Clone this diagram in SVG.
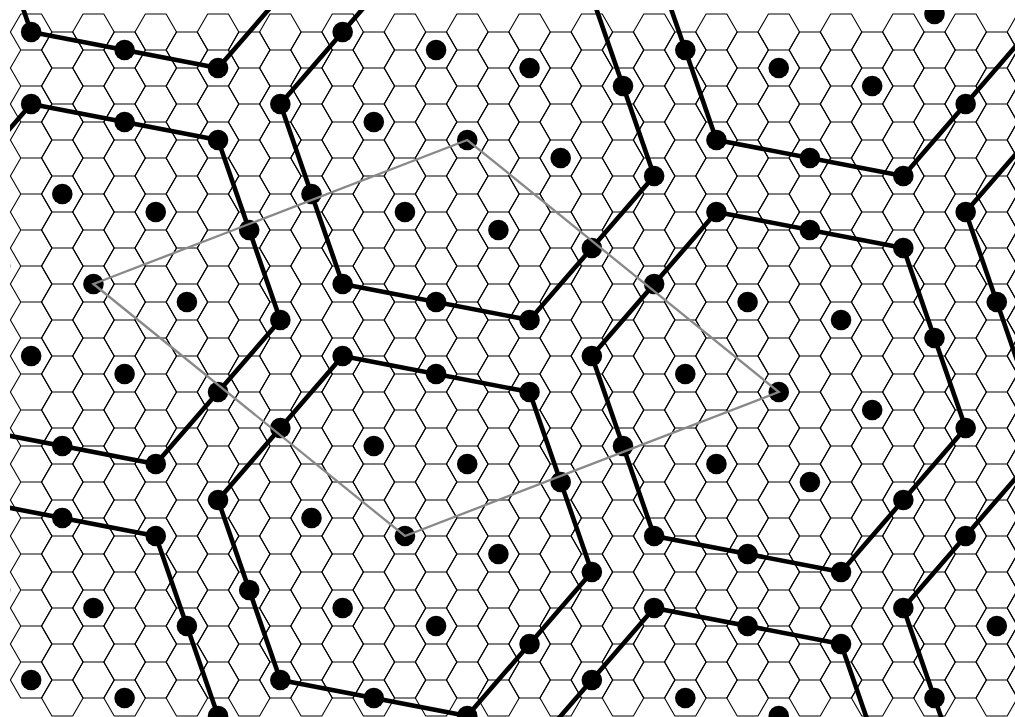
<svg xmlns="http://www.w3.org/2000/svg" width="1015" height="717" viewBox="0 0 1015 717">
<style>
.grid{fill:none;stroke:#000;stroke-width:1.1;stroke-linejoin:miter}
.ring{fill:none;stroke:#000;stroke-width:4.6;stroke-linejoin:round}
.dot{fill:#000}
.cellbox{fill:none;stroke:#888;stroke-width:2.3;stroke-linejoin:miter}
</style>
<defs>
<clipPath id="view"><rect x="10" y="10" width="1010" height="712"/></clipPath>
<path id="col" d="M10.38 32l10.385-18h20.77l10.385 18l-10.385 18h-20.77z
m0 36l10.385-18h20.77l10.385 18l-10.385 18h-20.77z
m0 36l10.385-18h20.77l10.385 18l-10.385 18h-20.77z
m0 36l10.385-18h20.77l10.385 18l-10.385 18h-20.77z
m0 36l10.385-18h20.77l10.385 18l-10.385 18h-20.77z
m0 36l10.385-18h20.77l10.385 18l-10.385 18h-20.77z
m0 36l10.385-18h20.77l10.385 18l-10.385 18h-20.77z
m0 36l10.385-18h20.77l10.385 18l-10.385 18h-20.77z
m0 36l10.385-18h20.77l10.385 18l-10.385 18h-20.77z
m0 36l10.385-18h20.77l10.385 18l-10.385 18h-20.77z
m0 36l10.385-18h20.77l10.385 18l-10.385 18h-20.77z
m0 36l10.385-18h20.77l10.385 18l-10.385 18h-20.77z
m0 36l10.385-18h20.77l10.385 18l-10.385 18h-20.77z
m0 36l10.385-18h20.77l10.385 18l-10.385 18h-20.77z
m0 36l10.385-18h20.77l10.385 18l-10.385 18h-20.77z
m0 36l10.385-18h20.77l10.385 18l-10.385 18h-20.77z
m0 36l10.385-18h20.77l10.385 18l-10.385 18h-20.77z
m0 36l10.385-18h20.77l10.385 18l-10.385 18h-20.77z
m0 36l10.385-18h20.77l10.385 18l-10.385 18h-20.77z"/>
<polygon id="ring" points="186.9,36 62.3,180 -124.6,144 -186.9,-36 -62.3,-180 124.6,-144"/>
<g id="dots">
<circle class="dot" cx="0" cy="0" r="10.3"/>
<circle class="dot" cx="93.45" cy="18" r="10.3"/>
<circle class="dot" cx="-93.45" cy="-18" r="10.3"/>
<circle class="dot" cx="62.3" cy="-72" r="10.3"/>
<circle class="dot" cx="-62.3" cy="72" r="10.3"/>
<circle class="dot" cx="31.15" cy="90" r="10.3"/>
<circle class="dot" cx="-31.15" cy="-90" r="10.3"/>
<circle class="dot" cx="186.9" cy="36" r="10.3"/>
<circle class="dot" cx="62.3" cy="180" r="10.3"/>
<circle class="dot" cx="-124.6" cy="144" r="10.3"/>
<circle class="dot" cx="-186.9" cy="-36" r="10.3"/>
<circle class="dot" cx="-62.3" cy="-180" r="10.3"/>
<circle class="dot" cx="124.6" cy="-144" r="10.3"/>
<circle class="dot" cx="124.6" cy="108" r="10.3"/>
<circle class="dot" cx="-31.15" cy="162" r="10.3"/>
<circle class="dot" cx="-155.75" cy="54" r="10.3"/>
<circle class="dot" cx="-124.6" cy="-108" r="10.3"/>
<circle class="dot" cx="31.15" cy="-162" r="10.3"/>
<circle class="dot" cx="155.75" cy="-54" r="10.3"/>
</g>
</defs>
<rect width="1015" height="717" fill="#fff"/>
<g id="hex-grid" class="grid">
<use href="#col" x="0" y="0"/>
<use href="#col" x="31.15" y="18"/>
<use href="#col" x="62.3" y="0"/>
<use href="#col" x="93.45" y="18"/>
<use href="#col" x="124.6" y="0"/>
<use href="#col" x="155.75" y="18"/>
<use href="#col" x="186.9" y="0"/>
<use href="#col" x="218.05" y="18"/>
<use href="#col" x="249.2" y="0"/>
<use href="#col" x="280.35" y="18"/>
<use href="#col" x="311.5" y="0"/>
<use href="#col" x="342.65" y="18"/>
<use href="#col" x="373.8" y="0"/>
<use href="#col" x="404.95" y="18"/>
<use href="#col" x="436.1" y="0"/>
<use href="#col" x="467.25" y="18"/>
<use href="#col" x="498.4" y="0"/>
<use href="#col" x="529.55" y="18"/>
<use href="#col" x="560.7" y="0"/>
<use href="#col" x="591.85" y="18"/>
<use href="#col" x="623" y="0"/>
<use href="#col" x="654.15" y="18"/>
<use href="#col" x="685.3" y="0"/>
<use href="#col" x="716.45" y="18"/>
<use href="#col" x="747.6" y="0"/>
<use href="#col" x="778.75" y="18"/>
<use href="#col" x="809.9" y="0"/>
<use href="#col" x="841.05" y="18"/>
<use href="#col" x="872.2" y="0"/>
<use href="#col" x="903.35" y="18"/>
<use href="#col" x="934.5" y="0"/>
<use href="#col" x="965.65" y="18"/>
<use href="#col" x="996.8" y="0"/>
</g>
<g id="connectors" class="ring" clip-path="url(#view)">
<use href="#ring" x="93.45" y="284"/>
<use href="#ring" x="467.25" y="140"/>
<use href="#ring" x="841.05" y="-4"/>
<use href="#ring" x="404.95" y="536"/>
<use href="#ring" x="778.75" y="392"/>
<use href="#ring" x="1152.55" y="248"/>
<use href="#ring" x="31.15" y="680"/>
<use href="#ring" x="716.45" y="788"/>
<use href="#ring" x="1090.25" y="644"/>
<use href="#ring" x="155.75" y="-112"/>
</g>
<g id="nodes" clip-path="url(#view)">
<g id="cluster-1"><use href="#dots" x="93.45" y="284"/></g>
<g id="cluster-2"><use href="#dots" x="467.25" y="140"/></g>
<g id="cluster-3"><use href="#dots" x="841.05" y="-4"/></g>
<g id="cluster-4"><use href="#dots" x="404.95" y="536"/></g>
<g id="cluster-5"><use href="#dots" x="778.75" y="392"/></g>
<g id="cluster-6"><use href="#dots" x="1152.55" y="248"/></g>
<g id="cluster-7"><use href="#dots" x="31.15" y="680"/></g>
<g id="cluster-8"><use href="#dots" x="716.45" y="788"/></g>
<g id="cluster-9"><use href="#dots" x="1090.25" y="644"/></g>
<g id="cluster-10"><use href="#dots" x="155.75" y="-112"/></g>
</g>
<g id="unit-cell">
<polygon class="cellbox" points="93.45,284 467.25,140 778.75,392 404.95,536"/>
</g>
</svg>
